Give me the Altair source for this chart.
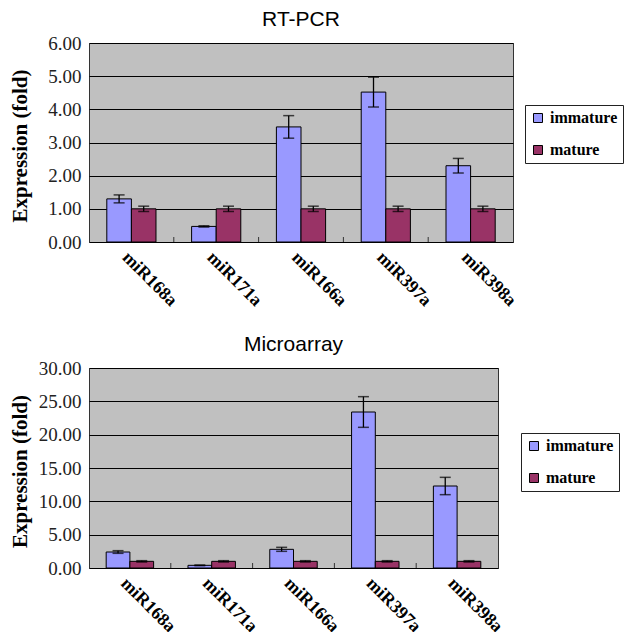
import altair as alt
import pandas as pd

genes = ["miR168a", "miR171a", "miR166a", "miR397a", "miR398a"]
stages = ["immature", "mature"]

rt_immature = [1.30, 0.47, 3.47, 4.52, 2.30]
rt_immature_err = [0.12, 0.02, 0.34, 0.45, 0.22]
rt_mature = [1.00, 1.00, 1.00, 1.00, 1.00]
rt_mature_err = [0.08, 0.08, 0.08, 0.08, 0.08]

ma_immature = [2.40, 0.40, 2.80, 23.40, 12.30]
ma_immature_err = [0.20, 0.05, 0.30, 2.30, 1.30]
ma_mature = [1.00, 1.00, 1.00, 1.00, 1.00]
ma_mature_err = [0.10, 0.10, 0.10, 0.10, 0.10]

rt_ticks = [0, 1, 2, 3, 4, 5, 6]
ma_ticks = [0, 5, 10, 15, 20, 25, 30]

colors = ["#9999ff", "#993366"]
SERIF = "Liberation Serif"
SANS = "Liberation Sans"


def long_df(imm, imm_err, mat, mat_err):
    rows = []
    for g, v, e in zip(genes, imm, imm_err):
        rows.append({"gene": g, "stage": "immature", "value": v, "err": e})
    for g, v, e in zip(genes, mat, mat_err):
        rows.append({"gene": g, "stage": "mature", "value": v, "err": e})
    return pd.DataFrame(rows)


def panel(df, title, ticks, width, height, legend_x, legend_y):
    xs = alt.Scale(domain=genes, paddingInner=0, paddingOuter=0)
    xo = alt.Scale(domain=stages, paddingInner=0, paddingOuter=0.724)
    ys = alt.Scale(domain=[ticks[0], ticks[-1]], nice=False)
    x_axis = alt.Axis(labelAngle=45, labelFont=SERIF, labelFontWeight="bold",
                      labelFontSize=18, labelColor="black", labelPadding=6,
                      ticks=False, domain=False, grid=False, labelOverlap=False)
    y_axis = alt.Axis(values=ticks, format=".2f", title="Expression (fold)",
                      titleFont=SERIF, titleFontWeight="bold", titleFontSize=21,
                      titleColor="black", titleX=-59, titleY=height / 2 + 3,
                      titleAngle=-90, titleAlign="center", titleBaseline="bottom",
                      labelFont=SERIF, labelFontSize=19, labelColor="#222222",
                      labelPadding=8, ticks=False, domain=False, labelOverlap=False,
                      grid=True, gridColor="black", gridWidth=1, gridOpacity=1)
    x_enc = alt.X("gene:N", scale=xs, sort=genes, title=None, axis=x_axis)
    xo_enc = alt.XOffset("stage:N", scale=xo, sort=stages)
    base = alt.Chart(df).transform_calculate(
        lo="datum.value - datum.err", hi="datum.value + datum.err"
    )
    bars = base.mark_bar(stroke="black", strokeWidth=1).encode(
        x=x_enc,
        xOffset=xo_enc,
        y=alt.Y("value:Q", scale=ys, axis=y_axis),
        color=alt.Color(
            "stage:N", scale=alt.Scale(domain=stages, range=colors),
            legend=alt.Legend(
                title=None, orient="none", legendX=legend_x, legendY=legend_y,
                labelFont=SERIF, labelFontWeight="bold", labelFontSize=16,
                labelColor="black", symbolType="square", symbolSize=81,
                symbolStrokeColor="black", symbolStrokeWidth=1,
                symbolOpacity=1, rowPadding=16, padding=5, labelOffset=4,
                strokeColor="#222222", fillColor="white",
            ),
        ),
    )
    rules = base.mark_rule(color="black", strokeWidth=1.3).encode(
        x=x_enc,
        xOffset=xo_enc,
        y=alt.Y("lo:Q", scale=ys, axis=y_axis, title="Expression (fold)"),
        y2="hi:Q",
    )
    cap_lo = base.mark_tick(color="black", thickness=1.5, size=11,
                            orient="horizontal").encode(
        x=x_enc,
        xOffset=xo_enc,
        y=alt.Y("lo:Q", scale=ys, axis=y_axis, title="Expression (fold)"),
    )
    cap_hi = base.mark_tick(color="black", thickness=1.5, size=11,
                            orient="horizontal").encode(
        x=x_enc,
        xOffset=xo_enc,
        y=alt.Y("hi:Q", scale=ys, axis=y_axis, title="Expression (fold)"),
    )
    bdf = pd.DataFrame({"gene": genes[1:]})
    inner_ticks = alt.Chart(bdf).mark_rule(color="#333333", strokeWidth=1).encode(
        x=alt.X("gene:N", scale=xs, sort=genes, bandPosition=0, title=None,
                axis=x_axis),
        y=alt.value(height - 5),
        y2=alt.value(height),
    )
    return alt.layer(bars, inner_ticks, rules, cap_lo, cap_hi).properties(
        width=width, height=height,
        title=alt.TitleParams(title, font=SANS, fontSize=21, fontWeight="normal",
                              color="black", offset=4),
    )


top = panel(long_df(rt_immature, rt_immature_err, rt_mature, rt_mature_err),
            "RT-PCR", rt_ticks, 424, 199, 436, 62)
bottom = panel(long_df(ma_immature, ma_immature_err, ma_mature, ma_mature_err),
               "Microarray", ma_ticks, 409, 200, 432, 65)

chart = alt.vconcat(top, bottom, spacing=22).resolve_scale(
    color="independent", x="independent", y="independent", xOffset="independent"
).resolve_legend(color="independent").properties(
    padding={"left": 0, "top": 0, "right": 0, "bottom": 0},
    background="white",
).configure_view(
    fill="#c0c0c0", stroke="#333333", strokeWidth=1
)

chart.save("out.html", embed_options={"renderer": "svg", "actions": False})
